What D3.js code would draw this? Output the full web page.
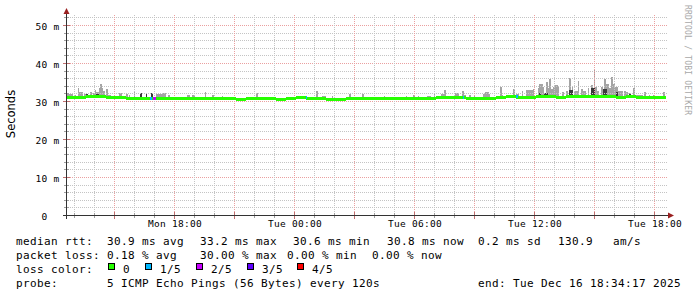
<!DOCTYPE html>
<html>
<head>
<meta charset="utf-8">
<script src="https://cdn.jsdelivr.net/npm/d3@7"></script>
<style>
  body { margin: 0; background: #fff; }
  svg { display: block; }
  text { font-family: "DejaVu Sans Mono", monospace; fill: #000; }
</style>
</head>
<body>
<div id="chart"></div>
<script>
// ---- data ----
var startTime = "2025-12-15 12:34:17"
var endTime = "2025-12-16 18:34:17"
var yMaxMs = 52.63
var yTicks = [0, 10, 20, 30, 40, 50]

// median rtt (ms), one value per 30 minutes from startTime
var medianStepMin = 30
var medianMs = [
  30.9, 31.0, 31.2, 31.1, 31.0, 30.8, 30.7, 30.7, 30.6, 30.7,
  30.6, 30.7, 30.6, 30.7, 30.6, 30.7, 30.6, 30.4, 30.6, 30.7,
  30.6, 30.4, 30.6, 30.8, 30.6, 30.7, 30.5, 30.5, 30.6, 30.7,
  30.6, 30.7, 30.6, 30.6, 30.7, 30.6, 30.7, 30.8, 30.8, 30.8,
  30.6, 30.7, 30.6, 31.0, 31.1, 30.9, 30.9, 31.3, 31.2, 31.0,
  31.2, 31.3, 31.2, 31.1, 31.1, 31.0, 31.3, 30.9, 30.9, 30.8
]

// smoke: [from, to, max ping ms]
var smokeRuns = [
  ["Mon 12:34", "Mon 12:55", 31.8], ["Mon 12:58", "Mon 13:04", 31.6], ["Mon 13:10", "Mon 13:13", 33.5],
  ["Mon 13:13", "Mon 13:25", 32.4], ["Mon 13:28", "Mon 13:40", 31.8], ["Mon 13:46", "Mon 13:52", 32.4],
  ["Mon 13:55", "Mon 14:01", 32.0], ["Mon 14:01", "Mon 14:04", 32.9], ["Mon 14:04", "Mon 14:13", 32.4],
  ["Mon 14:13", "Mon 14:16", 33.5], ["Mon 14:16", "Mon 14:22", 34.5], ["Mon 14:22", "Mon 14:25", 33.5],
  ["Mon 14:25", "Mon 14:31", 32.7], ["Mon 14:34", "Mon 14:40", 33.2], ["Mon 14:40", "Mon 14:49", 31.7],
  ["Mon 15:13", "Mon 15:22", 32.1], ["Mon 15:34", "Mon 15:40", 31.8], ["Mon 15:43", "Mon 15:46", 31.6],
  ["Mon 15:58", "Mon 16:01", 32.4], ["Mon 17:04", "Mon 17:25", 31.8], ["Mon 17:25", "Mon 17:34", 32.0],
  ["Mon 17:40", "Mon 17:46", 31.6], ["Mon 18:37", "Mon 18:46", 31.6], ["Mon 18:52", "Mon 19:01", 31.5],
  ["Mon 19:31", "Mon 19:34", 32.4], ["Mon 19:52", "Mon 19:58", 31.6], ["Mon 20:22", "Mon 20:25", 31.3],
  ["Mon 21:40", "Mon 21:58", 31.1], ["Mon 22:04", "Mon 22:10", 32.1], ["Mon 22:19", "Mon 22:22", 31.1],
  ["Tue 00:13", "Tue 00:22", 31.3], ["Tue 01:04", "Tue 01:10", 32.6], ["Tue 01:22", "Tue 01:34", 31.3],
  ["Tue 01:52", "Tue 01:55", 31.3], ["Tue 02:43", "Tue 02:49", 31.8], ["Tue 03:22", "Tue 03:28", 31.8],
  ["Tue 04:28", "Tue 04:31", 31.3], ["Tue 04:43", "Tue 04:46", 31.1], ["Tue 05:34", "Tue 05:37", 31.3],
  ["Tue 05:55", "Tue 06:01", 31.6], ["Tue 06:10", "Tue 06:13", 31.3], ["Tue 06:37", "Tue 06:49", 31.3],
  ["Tue 06:58", "Tue 07:01", 32.0], ["Tue 07:10", "Tue 07:19", 31.3], ["Tue 07:19", "Tue 07:28", 31.8],
  ["Tue 07:28", "Tue 07:34", 32.9], ["Tue 08:01", "Tue 08:13", 32.1], ["Tue 08:22", "Tue 08:28", 32.6],
  ["Tue 08:28", "Tue 08:34", 31.6], ["Tue 08:43", "Tue 08:49", 31.6], ["Tue 08:58", "Tue 09:01", 31.3],
  ["Tue 09:25", "Tue 09:31", 31.8], ["Tue 09:31", "Tue 09:43", 32.3], ["Tue 09:43", "Tue 09:46", 31.8],
  ["Tue 10:07", "Tue 10:13", 31.3], ["Tue 10:16", "Tue 10:22", 33.8], ["Tue 10:22", "Tue 10:25", 31.6],
  ["Tue 10:55", "Tue 11:01", 33.2], ["Tue 11:04", "Tue 11:13", 31.8], ["Tue 11:22", "Tue 11:25", 32.6],
  ["Tue 11:34", "Tue 11:55", 32.9], ["Tue 11:55", "Tue 11:58", 33.2], ["Tue 12:10", "Tue 12:13", 33.4],
  ["Tue 12:13", "Tue 12:25", 34.5], ["Tue 12:25", "Tue 12:28", 33.8], ["Tue 12:34", "Tue 12:40", 34.9],
  ["Tue 12:40", "Tue 12:43", 33.4], ["Tue 12:43", "Tue 12:49", 35.8], ["Tue 12:49", "Tue 12:55", 33.2],
  ["Tue 12:55", "Tue 12:58", 33.8], ["Tue 12:58", "Tue 13:10", 34.3], ["Tue 13:10", "Tue 13:13", 33.6],
  ["Tue 13:22", "Tue 13:28", 32.3], ["Tue 13:34", "Tue 13:40", 32.7], ["Tue 13:43", "Tue 13:49", 36.1],
  ["Tue 13:52", "Tue 13:55", 33.6], ["Tue 13:58", "Tue 14:10", 32.5], ["Tue 14:10", "Tue 14:13", 35.3],
  ["Tue 14:19", "Tue 14:25", 33.2], ["Tue 14:25", "Tue 14:34", 32.5], ["Tue 14:40", "Tue 14:43", 33.4],
  ["Tue 14:49", "Tue 14:55", 34.3], ["Tue 14:58", "Tue 15:01", 38.4], ["Tue 15:01", "Tue 15:07", 33.8],
  ["Tue 15:07", "Tue 15:13", 32.7], ["Tue 15:19", "Tue 15:25", 33.8], ["Tue 15:28", "Tue 15:34", 35.8],
  ["Tue 15:34", "Tue 15:43", 34.5], ["Tue 15:43", "Tue 15:49", 33.4], ["Tue 15:49", "Tue 15:55", 36.2],
  ["Tue 15:55", "Tue 16:01", 34.5], ["Tue 16:01", "Tue 16:10", 33.6], ["Tue 16:10", "Tue 16:25", 32.7],
  ["Tue 16:28", "Tue 16:34", 32.5], ["Tue 16:34", "Tue 16:40", 32.3], ["Tue 16:43", "Tue 16:46", 32.0],
  ["Tue 16:55", "Tue 17:01", 33.4], ["Tue 17:04", "Tue 17:25", 31.6], ["Tue 17:28", "Tue 17:34", 32.3],
  ["Tue 17:43", "Tue 17:46", 31.6], ["Tue 17:55", "Tue 17:58", 31.6], ["Tue 18:25", "Tue 18:31", 32.3]
]

// darker inner smoke: [from, to, ms]
var smokeCore = [
  ["Mon 13:34", "Mon 13:40", 31.8], ["Mon 14:04", "Mon 14:13", 31.8], ["Mon 16:16", "Mon 16:22", 32.0],
  ["Mon 16:34", "Mon 16:37", 31.8], ["Mon 16:49", "Mon 16:55", 32.0], ["Tue 11:16", "Tue 11:25", 31.4],
  ["Tue 12:13", "Tue 12:19", 32.1], ["Tue 12:28", "Tue 12:40", 32.1], ["Tue 13:43", "Tue 13:55", 32.9],
  ["Tue 14:49", "Tue 15:01", 33.4], ["Tue 15:25", "Tue 15:37", 33.2], ["Tue 16:04", "Tue 16:10", 32.3],
  ["Tue 16:43", "Tue 16:49", 31.8]
]

// packet loss: [from, to, pings lost of 5]
var lossRuns = [
  ["Mon 16:46", "Mon 16:52", 1], ["Mon 16:55", "Mon 17:04", 2], ["Tue 00:34", "Tue 00:37", 1],
  ["Tue 08:25", "Tue 08:28", 1], ["Tue 11:04", "Tue 11:10", 1]
]

var lossLabels = ["0", "1/5", "2/5", "3/5", "4/5"]
var lossColors = ["#26ff00", "#00b8ff", "#c800ff", "#5e00ff", "#ff0000"]

var rttStats = ["30.9 ms avg", "33.2 ms max", "30.6 ms min", "30.8 ms now", "0.2 ms sd", "130.9", "am/s"]
var lossStats = ["0.18 % avg", "30.00 % max", "0.00 % min", "0.00 % now"]
var probeText = "5 ICMP Echo Pings (56 Bytes) every 120s"
var endText = "end: Tue Dec 16 18:34:17 2025"

// ---- drawing ----
var width = 697, height = 297
var plot = {left: 66, right: 666, top: 15, bottom: 215}

var parseFull = d3.timeParse("%Y-%m-%d %H:%M:%S")
var parseMin = d3.timeParse("%Y-%m-%d %H:%M")
var parseT = s => parseMin((s.slice(0, 3) === "Mon" ? "2025-12-15" : "2025-12-16") + s.slice(3))

var t0 = parseFull(startTime), t1 = parseFull(endTime)

var xScale = d3.scaleTime()
  .domain([t0, t1])
  .range([plot.left, plot.right])

var yScale = d3.scaleLinear()
  .domain([0, yMaxMs])
  .range([plot.bottom, plot.top])

var medianAt = t => {
  var i = Math.floor((t - t0) / (medianStepMin * 60000))
  return medianMs[Math.max(0, Math.min(medianMs.length - 1, i))]
}

var svg = d3.select("#chart")
  .append("svg")
  .attr("width", width)
  .attr("height", height)

svg.append("rect").attr("width", width).attr("height", height).attr("fill", "#fff")

var crisp = v => Math.floor(v) + 0.5

// smoke (light)
svg.append("g")
  .attr("shape-rendering", "crispEdges")
  .selectAll("rect")
  .data(smokeRuns)
  .enter()
  .append("rect")
  .attr("x", d => Math.round(xScale(parseT(d[0]))))
  .attr("width", d => Math.max(1, Math.round(xScale(parseT(d[1]))) - Math.round(xScale(parseT(d[0])))))
  .attr("y", d => Math.round(yScale(d[2])))
  .attr("height", d => Math.max(1, Math.round(yScale(medianAt(parseT(d[0])))) - Math.round(yScale(d[2]))))
  .style("fill", "#a4a4a4")

// smoke (core)
svg.append("g")
  .attr("shape-rendering", "crispEdges")
  .selectAll("rect")
  .data(smokeCore)
  .enter()
  .append("rect")
  .attr("x", d => Math.round(xScale(parseT(d[0]))))
  .attr("width", d => Math.max(1, Math.round(xScale(parseT(d[1]))) - Math.round(xScale(parseT(d[0])))))
  .attr("y", d => Math.round(yScale(d[2])))
  .attr("height", d => Math.max(1, Math.round(yScale(medianAt(parseT(d[0])))) - Math.round(yScale(d[2]))))
  .style("fill", "#3a3a3a")

// grid
var gridG = svg.append("g").attr("class", "grid")

d3.range(2, yMaxMs, 2).forEach(v => {
  var major = v % 10 === 0
  var yy = Math.round(yScale(v)) + 0.5
  gridG.append("line")
    .attr("x1", plot.left).attr("x2", plot.right + 1)
    .attr("y1", yy).attr("y2", yy)
    .style("stroke", major ? "#eaa0a0" : "#c4c4c4")
    .style("stroke-dasharray", "1,1")
})

d3.timeHour.range(t0, t1).forEach(t => {
  var major = t.getHours() % 3 === 0
  var xx = crisp(xScale(t))
  gridG.append("line")
    .attr("x1", xx).attr("x2", xx)
    .attr("y1", plot.top).attr("y2", plot.bottom)
    .style("stroke", major ? "#eaa0a0" : "#c4c4c4")
    .style("stroke-dasharray", "1,1")
})

// median band, coloured by loss
var bandTop = v => Math.round(yScale(v) - 1.5)

svg.append("g")
  .attr("shape-rendering", "crispEdges")
  .selectAll("rect")
  .data(medianMs)
  .enter()
  .append("rect")
  .attr("x", (d, i) => Math.round(xScale(d3.timeMinute.offset(t0, i * medianStepMin))))
  .attr("width", (d, i) => Math.round(xScale(d3.timeMinute.offset(t0, (i + 1) * medianStepMin))) -
    Math.round(xScale(d3.timeMinute.offset(t0, i * medianStepMin))))
  .attr("y", d => bandTop(d))
  .attr("height", 3)
  .style("fill", lossColors[0])

svg.append("g")
  .attr("shape-rendering", "crispEdges")
  .selectAll("rect")
  .data(lossRuns)
  .enter()
  .append("rect")
  .attr("x", d => Math.round(xScale(parseT(d[0]))))
  .attr("width", d => Math.max(1, Math.round(xScale(parseT(d[1]))) - Math.round(xScale(parseT(d[0])))))
  .attr("y", d => bandTop(medianAt(parseT(d[0]))))
  .attr("height", 3)
  .style("fill", d => lossColors[d[2]])

// axis ticks
var tickG = svg.append("g").attr("shape-rendering", "crispEdges")
d3.range(2, yMaxMs, 2).forEach(v => {
  var major = v % 10 === 0
  var yy = Math.round(yScale(v)) + 0.5
  tickG.append("line")
    .attr("x1", major ? 63 : 64).attr("x2", major ? 70 : 69)
    .attr("y1", yy).attr("y2", yy)
    .style("stroke", major ? "#c07070" : "#a0a0a0")
})
d3.timeHour.range(t0, t1).forEach(t => {
  var major = t.getHours() % 3 === 0
  var xx = crisp(xScale(t))
  tickG.append("line")
    .attr("x1", xx).attr("x2", xx)
    .attr("y1", major ? 212 : 213).attr("y2", major ? 219 : 218)
    .style("stroke", major ? "#c07070" : "#a0a0a0")
})

// axis lines + arrows
svg.append("line")
  .attr("x1", 63).attr("x2", 669).attr("y1", 215.5).attr("y2", 215.5)
  .style("stroke", "#333")
svg.append("line")
  .attr("x1", 66.5).attr("x2", 66.5).attr("y1", 219).attr("y2", 12)
  .style("stroke", "#333")
svg.append("path")
  .attr("d", "M63.5,14L69.5,14L66.5,8Z")
  .style("fill", "#9a2020")
svg.append("path")
  .attr("d", "M668,212.5L668,218.5L674,215.5Z")
  .style("fill", "#9a2020")

// Y axis labels
var yAxis = d3.axisLeft(yScale)
  .tickValues(yTicks)
  .tickSize(0)
  .tickPadding(6.5)
  .tickFormat(d => d === 0 ? "0\u00a0\u00a0" : d + " m")

svg.append("g")
  .attr("transform", `translate(${plot.left},0)`)
  .call(yAxis)
  .call(g => g.select(".domain").remove())
  .selectAll("text")
  .attr("dy", "0.45em")
  .style("font-family", "'DejaVu Sans Mono', monospace")
  .style("font-size", "9.5px")
  .style("letter-spacing", "0.28px")
  .style("fill", "#000")

// X axis labels
var xAxis = d3.axisBottom(xScale)
  .ticks(d3.timeHour.every(6))
  .tickSize(0)
  .tickPadding(5.5)
  .tickFormat(d3.timeFormat("%a %H:%M"))

svg.append("g")
  .attr("transform", `translate(0,${plot.bottom})`)
  .call(xAxis)
  .call(g => g.select(".domain").remove())
  .selectAll("text")
  .style("font-family", "'DejaVu Sans Mono', monospace")
  .style("font-size", "9.5px")
  .style("letter-spacing", "0.28px")
  .style("fill", "#000")

// vertical title
svg.append("text")
  .attr("transform", "translate(15,114) rotate(-90)")
  .style("text-anchor", "middle")
  .style("font-family", "'DejaVu Sans', sans-serif")
  .style("font-size", "11.5px")
  .text("Seconds")

// watermark
svg.append("text")
  .attr("transform", "translate(685,5) rotate(90)")
  .style("font-size", "8px")
  .style("letter-spacing", "0.2px")
  .style("fill", "#a8a8a8")
  .text("RRDTOOL / TOBI OETIKER")

// legend
var legendG = svg.append("g")
  .style("font-size", "11px")
  .style("letter-spacing", "0.38px")
  .style("white-space", "pre")

var rttX = [107, 200, 293, 387, 478, 558, 613]
var lossX = [107, 200, 287, 372]

legendG.append("text").attr("x", 16).attr("y", 245).text("median rtt:")
rttStats.forEach((s, i) => legendG.append("text").attr("x", rttX[i]).attr("y", 245).text(s))

legendG.append("text").attr("x", 16).attr("y", 259).text("packet loss:")
lossStats.forEach((s, i) => legendG.append("text").attr("x", lossX[i]).attr("y", 259).text(s))

legendG.append("text").attr("x", 16).attr("y", 273).text("loss color:")
var boxX = [108, 145, 196, 247, 297]
lossLabels.forEach((s, i) => {
  legendG.append("rect")
    .attr("x", boxX[i] + 0.5).attr("y", 263.5)
    .attr("width", 6).attr("height", 6)
    .style("fill", lossColors[i])
    .style("stroke", "#000")
  legendG.append("text").attr("x", boxX[i] + 15).attr("y", 273).text(s)
})

legendG.append("text").attr("x", 16).attr("y", 287).text("probe:")
legendG.append("text").attr("x", 107).attr("y", 287).text(probeText)
legendG.append("text").attr("x", 478).attr("y", 287).text(endText)
</script>
</body>
</html>
